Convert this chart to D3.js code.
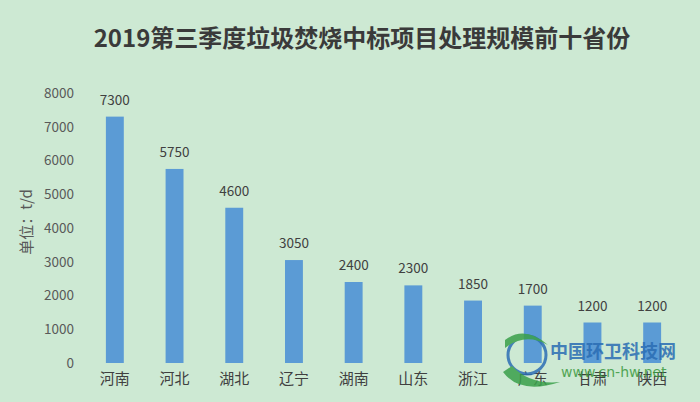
<!DOCTYPE html>
<html><head><meta charset="utf-8">
<script src="https://cdn.jsdelivr.net/npm/d3@7/dist/d3.min.js"></script>
<style>html,body{margin:0;padding:0;background:#cde9d3;}svg{display:block;}</style>
</head><body>
<svg id="c" width="700" height="402"></svg>
<script>
const categories = ["河南","河北","湖北","辽宁","湖南","山东","浙江","广东","甘肃","陕西"];
const values = [7300,5750,4600,3050,2400,2300,1850,1700,1200,1200];
const yTicks = [0,1000,2000,3000,4000,5000,6000,7000,8000];
const title = "2019第三季度垃圾焚烧中标项目处理规模前十省份";
const yTitle = "单位：t/d";

const svg = d3.select("#c");
const font = "'Noto Sans CJK SC','Noto Sans',sans-serif";
svg.append("rect").attr("width",700).attr("height",402).attr("fill","#cde9d3");

const x = d3.scaleBand().domain(categories).range([85,682]).paddingInner(0.7).paddingOuter(0.35);
const y = d3.scaleLinear().domain([0,8000]).range([363,93]);

svg.append("text").attr("x",362).attr("y",47).attr("text-anchor","middle")
  .attr("font-family",font).attr("font-weight","bold").attr("font-size",24)
  .attr("fill","#3a3a3a").text(title);

const yAxis = svg.append("g").attr("transform","translate(74,0)")
  .call(d3.axisLeft(y).tickValues(yTicks).tickSize(0).tickPadding(0).tickFormat(d3.format("d")));
yAxis.select(".domain").remove();
yAxis.selectAll("text").attr("font-family",font).attr("font-size",13.5).attr("fill","#595959");

svg.append("text").attr("transform","translate(25,222) rotate(-90)").attr("text-anchor","middle")
  .attr("dominant-baseline","central")
  .attr("font-family",font).attr("font-size",15).attr("fill","#595959").text(yTitle);

svg.selectAll("rect.bar").data(values).enter().append("rect").attr("class","bar")
  .attr("x",(d,i)=>x(categories[i])).attr("width",x.bandwidth())
  .attr("y",d=>y(d)).attr("height",d=>y(0)-y(d)).attr("fill","#5b9bd5");

svg.selectAll("text.val").data(values).enter().append("text").attr("class","val")
  .attr("x",(d,i)=>x(categories[i])+x.bandwidth()/2).attr("y",d=>y(d)-18)
  .attr("text-anchor","middle").attr("dominant-baseline","central")
  .attr("font-family",font).attr("font-size",13.5).attr("fill","#404040").text(d=>d);

const xAxis = svg.append("g").attr("transform","translate(0,363)")
  .call(d3.axisBottom(x).tickSize(0).tickPadding(10));
xAxis.select(".domain").remove();
xAxis.selectAll("text").attr("font-family",font).attr("font-size",15).attr("fill","#404040");

// watermark
const wm = svg.append("g").attr("opacity",0.85);
wm.append("circle").attr("cx",527).attr("cy",355).attr("r",19).attr("fill","none").attr("stroke","#2d6eb5").attr("stroke-width",3);
wm.append("path").attr("d","M503,372 Q520,395 560,382 Q530,385 512,366 Z").attr("fill","#3aa04a");
wm.append("path").attr("d","M505,340 Q525,325 548,345 Q525,332 505,348 Z").attr("fill","#3aa04a");
wm.append("text").attr("x",550).attr("y",358).attr("font-family",font).attr("font-weight","bold")
  .attr("font-size",18).attr("fill","#2a6db4").text("中国环卫科技网");
wm.append("text").attr("x",561).attr("y",377).attr("font-family","'DejaVu Sans',sans-serif")
  .attr("font-size",14).attr("fill","#3b9a3f").text("www.cn-hw.net");
</script>
</body></html>
